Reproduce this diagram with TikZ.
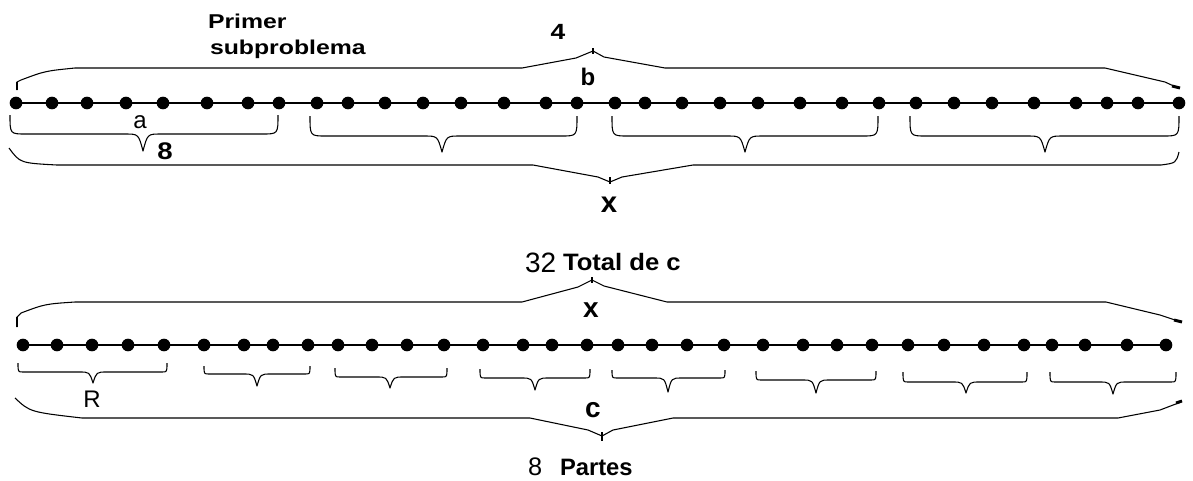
\documentclass[tikz,border=0pt]{standalone}
\usepackage{fontspec}
\setmainfont{Liberation Sans}
\newcommand{\mybrace}[8]{% x0 x1 xt yend yhor ytip r v
  \draw[brc] (#1,#4) .. controls (#1,#5) .. ({#1+#7},#5) -- ({#3-#8},#5)
    .. controls ({#3-0.25*#8},#5) .. (#3,#6)
    .. controls ({#3+0.25*#8},#5) .. ({#3+#8},#5) -- ({#2-#7},#5)
    .. controls (#2,#5) .. (#2,#4);}
\newcommand{\fs}[1]{\fontsize{#1}{#1}\selectfont}
\begin{document}
\begin{tikzpicture}[x=0.75pt,y=-0.75pt,
  dot/.style={circle,fill=black,inner sep=0pt,minimum size=9.5pt},
  mainline/.style={line width=1.1pt},
  brc/.style={line width=0.8pt,line join=round},
  tick/.style={line width=2.2pt},
  lbl/.style={inner sep=0pt,outer sep=0pt}]
\useasboundingbox (0,0) rectangle (1193,480);
\fill[white] (0,0) rectangle (1193,480);

% ---------- top figure ----------
\foreach \x [count=\i] in {16,52,87,126,163,207,248,279,317,348,385,423,461,504,546,577,615,645,682,720,758,800,842,879,916,954,992,1034,1076,1107,1138,1179}
  \node[dot] (t\i) at (\x,103) {};
\draw[mainline] (t1.center) -- (t32.center);

% big upper brace
\draw[brc] (17,90) -- (17,82) -- (21,80) .. controls (45,71) .. (75,68) -- (522,68) -- (576,58) -- (593,51) -- (604,57) -- (665,68) -- (1105,68) -- (1165,82) -- (1178,88);
\draw[tick] (17,90) -- (17,82);
\draw[tick] (593,48) -- (593,54);
\draw[tick] (1172,86) -- (1180,88);

% small braces
\mybrace{10}{278}{143}{115}{134}{151}{16}{18}
\mybrace{310}{577}{442}{116}{136}{152}{16}{18}
\mybrace{612}{878}{745}{116}{136}{152}{16}{18}
\mybrace{910}{1179}{1045}{116}{136}{152}{16}{18}

% big lower brace
\draw[brc] (9,148) .. controls (20,163) .. (57,165) -- (533,165) -- (598,177) -- (610,182) -- (622,177) -- (693,165) -- (1161,165) .. controls (1176,163) .. (1179,152);
\draw[tick] (610,177) -- (610,184);

% labels
\node[lbl,anchor=base west] (primer) at (208,28) {\fs{15}\bfseries\scalebox{1.24}[1]{Primer}};
\node[lbl,anchor=base west] (subprob) at (210,54) {\fs{15}\bfseries\scalebox{1.24}[1]{subproblema}};
\node[lbl,anchor=base] (four) at (558,39) {\fs{16.5}\bfseries\scalebox{1.2}[1]{4}};
\node[lbl,anchor=base] (lb) at (588,85) {\fs{18}\bfseries b};
\node[lbl,anchor=base] (la) at (140,128) {\fs{18}a};
\node[lbl,anchor=base] (eight) at (165,159) {\fs{18}\bfseries\scalebox{1.15}[1]{8}};
\node[lbl,anchor=base] (xtop) at (609,212) {\fs{22}\bfseries x};

% ---------- bottom figure ----------
\foreach \x [count=\i] in {23,57,92,128,164,204,244,273,308,338,372,407,444,483,523,552,587,618,652,687,724,763,803,837,872,908,944,984,1024,1052,1085,1127,1166}
  \node[dot] (b\i) at (\x,345) {};
\draw[mainline] (b1.center) -- (b33.center);

% big upper brace
\draw[brc] (17,327) -- (17,317) -- (21,313) .. controls (45,304) .. (75,302) -- (522,302) -- (578,287) -- (592,280) -- (604,286) -- (667,302) -- (1106,302) -- (1160,315) -- (1181,322);
\draw[tick] (17,327) -- (17,317);
\draw[tick] (592,277) -- (592,283);
\draw[tick] (1174,320) -- (1182,322);

% small braces
\mybrace{18}{167}{93}{363}{372}{383}{5}{14}
\mybrace{204}{310}{257}{366}{374}{386}{5}{14}
\mybrace{335}{447}{390}{368}{377}{388}{5}{14}
\mybrace{480}{590}{535}{369}{378}{390}{5}{14}
\mybrace{612}{725}{668}{370}{378}{392}{5}{14}
\mybrace{756}{876}{816}{371}{380}{393}{5}{14}
\mybrace{903}{1027}{966}{372}{382}{393}{5}{14}
\mybrace{1050}{1176}{1113}{372}{382}{394}{5}{14}

% big lower brace
\draw[brc] (15,398) .. controls (30,412) .. (82,418) -- (530,418) -- (588,430) -- (602,436) -- (613,430) -- (673,418) -- (1118,418) -- (1160,410) -- (1181,402);
\draw[tick] (602,432) -- (602,441);
\draw[tick] (1176,403) -- (1182,401);

% labels
\node[lbl,anchor=base west] (n32) at (525,272) {\fs{21}32};
\node[lbl,anchor=base west] (total) at (563,270) {\fs{17.8}\bfseries\scalebox{1.08}[1]{Total de c}};
\node[lbl,anchor=base] (xbot) at (591,317) {\fs{21}\bfseries x};
\node[lbl,anchor=base] (lR) at (92,407) {\fs{18}R};
\node[lbl,anchor=base] (lc) at (593,417) {\fs{21}\bfseries c};
\node[lbl,anchor=base west] (n8) at (528,475) {\fs{19}8};
\node[lbl,anchor=base west] (partes) at (560,475) {\fs{17.8}\bfseries Partes};
\end{tikzpicture}
\end{document}
